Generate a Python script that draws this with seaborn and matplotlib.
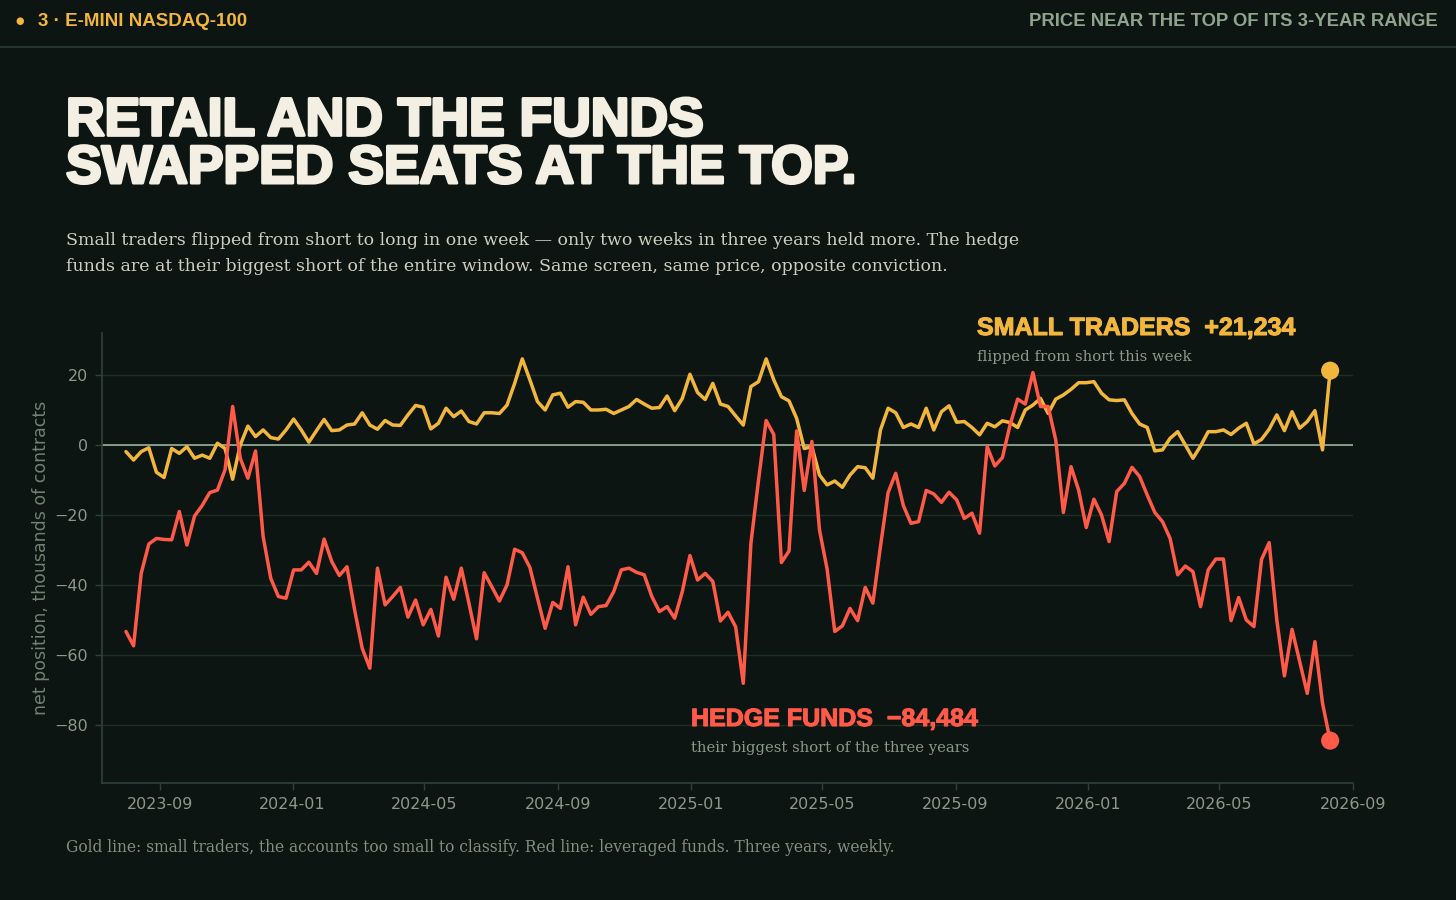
import matplotlib.pyplot as plt
import matplotlib.dates as mdates
import matplotlib.patheffects as pe
import pandas as pd
import seaborn as sns

# weekly CFTC-style readings, thousands of contracts
weeks = pd.date_range('2023-08-01', periods=159, freq='7D')

small_traders = [
    -1.9, -4.3, -1.9, -0.8, -7.8, -9.3, -1.0, -2.4, -0.5, -3.8,
    -2.9, -3.8, 0.5, -1.0, -9.8, 0.0, 5.4, 2.4, 4.3, 2.1,
    1.7, 4.3, 7.4, 4.3, 0.8, 4.1, 7.3, 4.1, 4.3, 5.7,
    6.0, 9.2, 5.7, 4.5, 7.0, 5.7, 5.6, 8.6, 11.3, 10.8,
    4.6, 6.2, 10.5, 8.1, 9.7, 6.7, 6.0, 9.2, 9.2, 9.0,
    11.4, 17.6, 24.6, 18.6, 12.4, 10.0, 14.3, 14.8, 10.8, 12.4,
    12.2, 10.0, 10.0, 10.2, 9.0, 10.0, 11.0, 13.0, 11.7, 10.5,
    10.7, 14.0, 9.8, 13.3, 20.2, 15.0, 13.0, 17.6, 11.7, 11.0,
    8.3, 5.7, 16.7, 18.1, 24.6, 18.6, 13.8, 12.6, 7.6, -1.0,
    -0.5, -8.6, -11.4, -10.3, -12.1, -8.6, -6.2, -6.5, -9.5, 4.3,
    10.5, 9.2, 5.0, 6.0, 5.0, 10.5, 4.3, 9.5, 11.2, 6.5,
    6.7, 5.0, 2.9, 6.2, 5.2, 6.9, 6.4, 5.0, 10.0, 11.4,
    13.3, 9.0, 13.1, 14.3, 15.9, 17.8, 17.8, 18.1, 14.8, 12.9,
    12.7, 12.9, 9.0, 6.0, 5.0, -1.7, -1.4, 1.9, 3.8, 0.0,
    -3.8, -0.3, 3.8, 3.8, 4.3, 3.0, 4.8, 6.2, 0.3, 1.6,
    4.5, 8.6, 4.1, 9.5, 4.8, 6.7, 9.8, -1.4, 21.234,
]

hedge_funds = [
    -53.3, -57.4, -36.7, -28.3, -26.7, -27.0, -27.1, -19.0, -28.6, -20.3,
    -17.3, -13.6, -12.9, -7.1, 11.0, -3.8, -9.5, -1.7, -26.2, -38.1,
    -43.3, -43.8, -35.7, -35.7, -33.5, -36.7, -26.9, -33.3, -37.3, -34.8,
    -47.1, -58.1, -63.8, -35.2, -45.7, -43.3, -40.7, -49.2, -44.3, -51.4,
    -47.0, -54.6, -37.8, -44.1, -35.2, -45.2, -55.4, -36.5, -40.5, -44.6,
    -40.0, -29.8, -30.8, -35.0, -43.8, -52.4, -45.0, -46.7, -34.8, -51.4,
    -43.5, -48.4, -46.2, -45.9, -41.9, -35.7, -35.2, -36.4, -37.1, -43.3,
    -47.6, -46.2, -49.5, -41.9, -31.6, -38.6, -36.7, -39.0, -50.3, -47.8,
    -52.0, -68.1, -28.1, -10.0, 7.0, 3.0, -33.6, -30.3, 4.0, -13.0,
    1.0, -24.3, -35.5, -53.3, -51.7, -46.7, -50.2, -40.7, -45.2, -29.0,
    -13.6, -8.1, -17.3, -22.4, -21.9, -13.0, -14.0, -16.4, -13.5, -15.7,
    -21.0, -19.5, -25.2, -0.5, -6.0, -3.6, 5.7, 13.1, 11.7, 20.7,
    11.0, 11.0, 1.4, -19.3, -6.2, -12.9, -23.6, -15.5, -20.0, -27.6,
    -13.3, -11.0, -6.4, -9.0, -14.3, -19.3, -21.9, -26.7, -37.1, -34.6,
    -36.2, -46.2, -35.7, -32.6, -32.6, -50.2, -43.6, -50.0, -51.9, -32.7,
    -27.9, -50.0, -66.0, -52.7, -61.9, -71.0, -56.2, -73.8, -84.484,
]

y_ticks = [-80, -60, -40, -20, 0, 20]

BG = '#0c1511'
GOLD = '#f2b63c'
RED = '#ff5a47'
CREAM = '#f3efe2'
MUTED = '#8a998c'
DIM = '#6f8273'
GRID = '#1d2f26'
SPINE = '#2d4337'

W, H = 1456, 900


def fx(px):
    return px / W


def fy(py):
    return 1 - py / H


def main():
    df = pd.DataFrame({'week': weeks,
                       'Small traders': small_traders,
                       'Hedge funds': hedge_funds})
    long = df.melt(id_vars='week', var_name='group', value_name='net')
    pal = {'Small traders': GOLD, 'Hedge funds': RED}

    sns.set_theme(style='dark')
    plt.rcParams['font.family'] = ['DejaVu Sans']

    fig = plt.figure(figsize=(14.56, 9), dpi=100, facecolor=BG)
    ax = fig.add_axes([fx(102), fy(783), fx(1353 - 102), (783 - 333) / H])
    ax.set_facecolor(BG)

    ax.axhline(0, color='#8fa592', lw=1.3, zorder=1)
    sns.lineplot(data=long, x='week', y='net', hue='group', palette=pal,
                 hue_order=['Small traders', 'Hedge funds'],
                 linewidth=2.5, legend=False, ax=ax, zorder=3)

    last = long[long['week'] == long['week'].max()]
    sns.scatterplot(data=last, x='week', y='net', hue='group', palette=pal,
                    s=170, edgecolor='none', legend=False, ax=ax, zorder=5)

    ax.set_xlim(pd.Timestamp('2023-07-10'), pd.Timestamp('2026-09-01'))
    ax.set_ylim(-96.6, 32)
    ax.set_yticks(y_ticks)
    ax.xaxis.set_major_locator(mdates.MonthLocator(bymonth=(1, 5, 9)))
    ax.xaxis.set_major_formatter(mdates.DateFormatter('%Y-%m'))

    ax.grid(False)
    ax.yaxis.grid(True, color=GRID, lw=1)
    ax.set_axisbelow(True)
    for side in ['top', 'right']:
        ax.spines[side].set_visible(False)
    for side in ['left', 'bottom']:
        ax.spines[side].set_visible(True)
        ax.spines[side].set_color(SPINE)
        ax.spines[side].set_linewidth(1.2)
    ax.tick_params(axis='both', which='major', bottom=True, left=True,
                   length=5, width=1, color=SPINE, labelcolor=MUTED,
                   labelsize=11.5, pad=5)

    ax.set_xlabel('')
    ax.set_ylabel('net position, thousands of contracts', color=DIM,
                  fontsize=12.5, labelpad=3)

    # header strip
    fig.text(fx(20), fy(21), '●', color=GOLD, fontsize=7, ha='center', va='center')
    fig.text(fx(38), fy(21), '3 · E-MINI NASDAQ-100', color=GOLD,
             fontsize=13.5, fontweight='bold', family='Liberation Sans',
             ha='left', va='center')
    fig.text(fx(1438), fy(21), 'PRICE NEAR THE TOP OF ITS 3-YEAR RANGE',
             color='#8fa38f', fontsize=13.3, fontweight='bold',
             family='Liberation Sans', ha='right', va='center')
    fig.add_artist(plt.Line2D([0, 1], [fy(47), fy(47)], color='#24372d', lw=1.5))

    # title, one block so the two lines share a box (baseline = last line)
    thick = [pe.withStroke(linewidth=2.2, foreground=CREAM)]
    fig.text(fx(66), fy(183), 'RETAIL AND THE FUNDS\nSWAPPED SEATS AT THE TOP.',
             color=CREAM, fontsize=38.5, fontweight='bold',
             family='Liberation Sans', va='baseline', linespacing=0.94,
             path_effects=thick)

    sub = '#cfccc0'
    fig.text(fx(66), fy(271),
             'Small traders flipped from short to long in one week — only two '
             'weeks in three years held more. The hedge\n'
             'funds are at their biggest short of the entire window. Same '
             'screen, same price, opposite conviction.',
             color=sub, fontsize=12.5, family='DejaVu Serif', va='baseline',
             linespacing=1.7)

    # direct labels
    fig.text(fx(977), fy(335), 'SMALL TRADERS  +21,234', color=GOLD,
             fontsize=18, fontweight='bold',
             family=['Liberation Sans', 'DejaVu Sans'], va='baseline',
             path_effects=[pe.withStroke(linewidth=0.8, foreground=GOLD)])
    fig.text(fx(977), fy(361), 'flipped from short this week', color=MUTED,
             fontsize=10.7, family='DejaVu Serif', va='baseline')
    fig.text(fx(691), fy(726), 'HEDGE FUNDS  \u221284,484', color=RED,
             fontsize=18, fontweight='bold',
             family=['Liberation Sans', 'DejaVu Sans'], va='baseline',
             path_effects=[pe.withStroke(linewidth=0.8, foreground=RED)])
    fig.text(fx(691), fy(752), 'their biggest short of the three years',
             color=MUTED, fontsize=10.6, family='DejaVu Serif', va='baseline')

    fig.text(fx(66), fy(852),
             'Gold line: small traders, the accounts too small to classify. '
             'Red line: leveraged funds. Three years, weekly.',
             color='#7f8f80', fontsize=11.2, family='DejaVu Serif', va='baseline')

    fig.savefig('out.png', dpi=100, facecolor=BG)


if __name__ == '__main__':
    main()
